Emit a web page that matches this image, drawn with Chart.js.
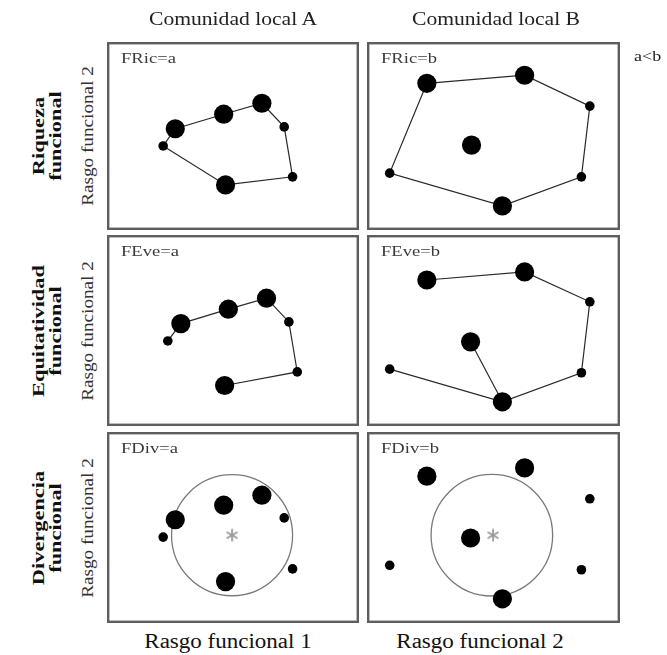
<!DOCTYPE html>
<html>
<head>
<meta charset="utf-8">
<script src="https://cdn.jsdelivr.net/npm/chart.js@4.4.0/dist/chart.umd.min.js"></script>
<style>
  html, body { margin:0; padding:0; background:#fff; }
  body { width:667px; height:655px; position:relative; overflow:hidden; font-family:"Liberation Serif","Times New Roman",serif; color:#222; }
  .panel { position:absolute; }
  .panel canvas { display:block; }
  .txt { position:absolute; white-space:nowrap; line-height:1; }
  .rot { position:absolute; white-space:nowrap; text-align:center; }
</style>
</head>
<body>
<script>
// ---------- DATA (trait space, 0-10 on both functional traits) ----------
// abundance: 1 = low (small dot), 2 = high (large dot)
const colTitles   = ["Comunidad local A", "Comunidad local B"];
const rowTitles   = [["Riqueza", "funcional"], ["Equitatividad", "funcional"], ["Divergencia", "funcional"]];
const axisX       = ["Rasgo funcional 1", "Rasgo funcional 2"];
const axisY       = "Rasgo funcional 2";
const panelLabels = [["FRic=a", "FRic=b"], ["FEve=a", "FEve=b"], ["FDiv=a", "FDiv=b"]];
const noteText    = "a<b";

// Row 1: functional richness (convex hull)
const ricA_x  = [2.00, 2.52, 4.60, 6.24, 7.20, 7.56, 4.68];
const ricA_y  = [4.41, 5.43, 6.29, 6.94, 5.54, 2.58, 2.10];
const ricA_ab = [1, 2, 2, 2, 1, 1, 2];
const ricA_hull = [0, 1, 2, 3, 4, 5, 6, 0];

const ricB_x  = [2.15, 6.33, 9.12, 8.76, 5.38, 0.56, 4.06];
const ricB_y  = [8.12, 8.60, 6.77, 2.58, 0.86, 2.80, 4.46];
const ricB_ab = [2, 2, 1, 1, 2, 1, 2];
const ricB_hull = [0, 1, 2, 3, 4, 5, 0];

// Row 2: functional evenness (minimum spanning tree)
const eveA_x  = [2.20, 2.76, 4.80, 6.44, 7.40, 7.76, 4.64];
const eveA_y  = [4.39, 5.40, 6.24, 6.88, 5.50, 2.59, 1.80];
const eveA_ab = [1, 2, 2, 2, 1, 1, 2];
const eveA_tree = [[0, 1, 2, 3, 4, 5, 6]];

const eveB_x  = [2.15, 6.33, 9.12, 8.76, 5.38, 0.56, 4.02];
const eveB_y  = [7.94, 8.41, 6.67, 2.54, 0.85, 2.75, 4.34];
const eveB_ab = [2, 2, 1, 1, 2, 1, 2];
const eveB_tree = [[0, 1, 2, 3, 4, 5], [4, 6]];

// Row 3: functional divergence (centroid + mean distance circle)
const divA_x  = [2.52, 2.00, 4.60, 6.24, 7.20, 7.56, 4.68];
const divA_y  = [5.45, 4.44, 6.30, 6.88, 5.56, 2.59, 1.85];
const divA_ab = [2, 1, 2, 2, 1, 1, 2];
const divA_centroid = [4.96, 4.55];
const divA_circle   = [4.96, 4.55, 2.6];   // centre x, centre y, radius (trait units along x)

const divB_x  = [2.15, 6.33, 9.12, 8.76, 5.38, 0.56, 4.02];
const divB_y  = [7.99, 8.47, 6.67, 2.54, 0.85, 2.80, 4.39];
const divB_ab = [2, 2, 1, 1, 2, 1, 2];
const divB_centroid = [4.98, 4.55];
const divB_circle   = [4.93, 4.55, 2.6];

// ---------- LAYOUT ----------
const colLeft = [107, 367], colW = [252, 253];
const rowTop  = [42, 235, 432], rowH = [188, 191, 191];

function addText(txt, opts) {
  const d = document.createElement('div');
  d.className = 'txt';
  d.textContent = txt;
  Object.assign(d.style, opts);
  document.body.appendChild(d);
  return d;
}

// six-armed grey asterisk used as centroid marker
const asterisk = (function () {
  const s = 14, cv = document.createElement('canvas');
  cv.width = s; cv.height = s;
  const c = cv.getContext('2d');
  c.strokeStyle = '#9a9a9a';
  c.lineWidth = 1.8;
  c.lineCap = 'round';
  for (let k = 0; k < 3; k++) {
    const a = Math.PI / 2 + k * Math.PI / 3;
    c.beginPath();
    c.moveTo(s / 2 + Math.cos(a) * 5.6, s / 2 - Math.sin(a) * 5.6);
    c.lineTo(s / 2 - Math.cos(a) * 5.6, s / 2 + Math.sin(a) * 5.6);
    c.stroke();
  }
  return cv;
})();

const boxPlugin = {
  id: 'box',
  afterDraw(chart) {
    const c = chart.ctx;
    c.save();
    c.strokeStyle = '#5e5e5e';
    c.lineWidth = 2.4;
    c.strokeRect(1.2, 1.2, chart.width - 2.4, chart.height - 2.4);
    c.restore();
  }
};

function pts(xs, ys) { return xs.map((x, i) => ({ x: x, y: ys[i] })); }
function path(xs, ys, idx) { return idx.map(i => ({ x: xs[i], y: ys[i] })); }

function makePanel(r, c, xs, ys, ab, lines, centroid, circle) {
  const wrap = document.createElement('div');
  wrap.className = 'panel';
  wrap.style.left = colLeft[c] + 'px';
  wrap.style.top = rowTop[r] + 'px';
  const cv = document.createElement('canvas');
  cv.width = colW[c]; cv.height = rowH[r];
  cv.style.width = colW[c] + 'px'; cv.style.height = rowH[r] + 'px';
  wrap.appendChild(cv);
  document.body.appendChild(wrap);

  const datasets = [];
  datasets.push({
    type: 'scatter',
    data: pts(xs, ys),
    pointRadius: ab.map(a => a === 2 ? 9.6 : 4.8),
    pointBackgroundColor: '#000',
    pointBorderColor: '#000',
    pointBorderWidth: 0,
    showLine: false
  });
  if (centroid) {
    datasets.push({
      type: 'scatter',
      data: [{ x: centroid[0], y: centroid[1] }],
      pointStyle: asterisk,
      pointRadius: 7,
      showLine: false
    });
  }
  if (circle) {
    datasets.push({
      type: 'scatter',
      data: [{ x: circle[0], y: circle[1] }],
      pointStyle: 'circle',
      pointRadius: (ctx) => {
        const sx = ctx.chart.scales.x;
        return sx.getPixelForValue(circle[2]) - sx.getPixelForValue(0);
      },
      pointBackgroundColor: 'rgba(0,0,0,0)',
      pointBorderColor: '#7a7a7a',
      pointBorderWidth: 1.3,
      showLine: false
    });
  }
  (lines || []).forEach(l => {
    datasets.push({
      type: 'scatter',
      data: l,
      showLine: true,
      borderColor: '#2a2a2a',
      borderWidth: 1.2,
      pointRadius: 0,
      tension: 0,
      fill: false
    });
  });

  new Chart(cv, {
    type: 'scatter',
    data: { datasets },
    options: {
      responsive: false,
      animation: false,
      devicePixelRatio: 1,
      layout: { padding: 0 },
      plugins: { legend: { display: false }, tooltip: { enabled: false } },
      events: [],
      scales: {
        x: { type: 'linear', min: 0, max: 10, display: false },
        y: { type: 'linear', min: 0, max: 10, display: false }
      }
    },
    plugins: [boxPlugin]
  });

  // panel label (index name)
  addText(panelLabels[r][c], {
    left: (colLeft[c] + 14) + 'px', top: (rowTop[r] + 8) + 'px',
    fontSize: '15.5px', color: '#3a3a3a', transform: 'scaleX(1.2)', transformOrigin: 'left top'
  });
}

makePanel(0, 0, ricA_x, ricA_y, ricA_ab, [path(ricA_x, ricA_y, ricA_hull)]);
makePanel(0, 1, ricB_x, ricB_y, ricB_ab, [path(ricB_x, ricB_y, ricB_hull)]);
makePanel(1, 0, eveA_x, eveA_y, eveA_ab, eveA_tree.map(t => path(eveA_x, eveA_y, t)));
makePanel(1, 1, eveB_x, eveB_y, eveB_ab, eveB_tree.map(t => path(eveB_x, eveB_y, t)));
makePanel(2, 0, divA_x, divA_y, divA_ab, [], divA_centroid, divA_circle);
makePanel(2, 1, divB_x, divB_y, divB_ab, [], divB_centroid, divB_circle);

// column titles
const colCenter = [233, 496];
colTitles.forEach((t, i) => {
  addText(t, { left: colCenter[i] + 'px', top: '10px', fontSize: '18px', color: '#222',
    transform: 'translateX(-50%) scaleX(1.2)', transformOrigin: 'center top' });
});
// note
addText(noteText, { left: '634px', top: '49px', fontSize: '15px', color: '#222',
  transform: 'scaleX(1.2)', transformOrigin: 'left top' });
// bottom axis titles
const botCenter = [228, 480];
axisX.forEach((t, i) => {
  addText(t, { left: botCenter[i] + 'px', top: '631px', fontSize: '20px', color: '#111',
    transform: 'translateX(-50%) scaleX(1.15)', transformOrigin: 'center top' });
});
// row titles + y axis titles
rowTitles.forEach((lines, r) => {
  const cy = rowTop[r] + rowH[r] / 2;
  const d = document.createElement('div');
  d.className = 'rot';
  d.innerHTML = lines.map(s => '<div>' + s + '</div>').join('');
  Object.assign(d.style, {
    left: '47px', top: cy + 'px', fontSize: '16px', fontWeight: 'bold', lineHeight: '17px', color: '#111',
    transform: 'translate(-50%,-50%) rotate(-90deg) scaleX(1.4)'
  });
  document.body.appendChild(d);

  const a = document.createElement('div');
  a.className = 'rot';
  a.textContent = axisY;
  Object.assign(a.style, {
    left: '88px', top: cy + 'px', fontSize: '16px', lineHeight: '16px', color: '#333',
    transform: 'translate(-50%,-50%) rotate(-90deg) scaleX(1.2)'
  });
  document.body.appendChild(a);
});
</script>
</body>
</html>
